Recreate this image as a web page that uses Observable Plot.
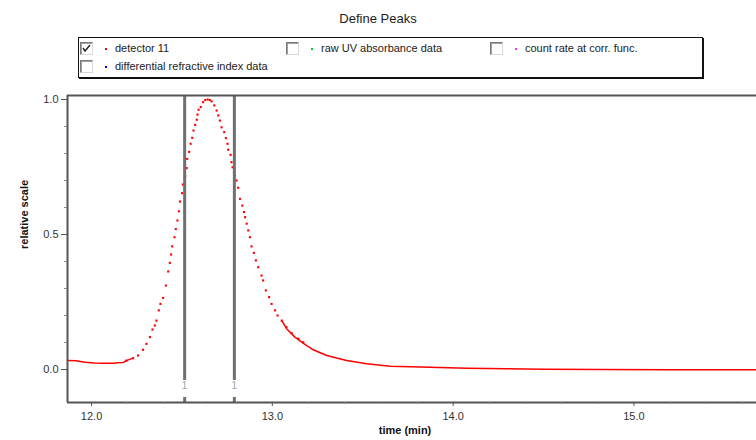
<!DOCTYPE html>
<html>
<head>
<meta charset="utf-8">
<script src="https://cdn.jsdelivr.net/npm/d3@7"></script>
<script src="https://cdn.jsdelivr.net/npm/@observablehq/plot@0.6"></script>
<style>
  body { margin: 0; background: #fff; font-family: "Liberation Sans", Arial, sans-serif; }
  #wrap { position: relative; width: 756px; height: 440px; overflow: hidden; }
  #header { position: relative; width: 756px; height: 85px; }
  #title { position: absolute; top: 11px; left: 0; width: 756px; text-align: center; font-size: 13px; color: #222; }
  #legend { position: absolute; left: 78px; top: 37px; width: 623px; height: 39px; border: 1px solid #111; box-shadow: 1px 1px 0 #111; background: #fff; }
  .item { position: absolute; font-size: 11px; color: #222; white-space: nowrap; }
  .cb { position: absolute; width: 11px; height: 11px; border: 1px solid #7a7a7a; border-right-color: #d8d8d8; border-bottom-color: #d8d8d8; background: #fff; box-shadow: inset 1px 1px 0 #a0a0a0; }
  .sw { position: absolute; width: 2px; height: 2px; }
  .lbl { position: absolute; line-height: 13px; }
</style>
</head>
<body>
<div id="wrap">
  <div id="header">
    <div id="title">Define Peaks</div>
    <div id="legend"></div>
  </div>
  <div id="chart"></div>
</div>
<script>
// ---- legend entries ----
const legendNames = ["detector 11", "raw  UV absorbance data", "count rate at corr. func.", "differential refractive index data"];
const legendColors = ["#ff0000", "#00cc33", "#ff33ff", "#0000ff"];
const legendChecked = [true, false, false, false];

// ---- data: detector 11 (relative scale vs time, min) ----
const leadTime   = [11.867, 11.914, 11.964, 12.015, 12.065, 12.125, 12.145, 12.176, 12.193, 12.230];
const leadSignal = [0.033, 0.032, 0.027, 0.024, 0.023, 0.023, 0.025, 0.026, 0.033, 0.042];

const peakTime = [12.193, 12.230, 12.257, 12.285, 12.304, 12.323, 12.337, 12.350, 12.359, 12.372,
  12.381, 12.396, 12.411, 12.424, 12.433, 12.440, 12.446, 12.459, 12.466, 12.475,
  12.483, 12.489, 12.501, 12.505, 12.518, 12.526, 12.529, 12.540, 12.548, 12.557,
  12.564, 12.573, 12.582, 12.586, 12.592, 12.604, 12.617, 12.629, 12.642, 12.654,
  12.664, 12.679, 12.692, 12.701, 12.710, 12.719, 12.734, 12.743, 12.752, 12.756,
  12.769, 12.774, 12.780, 12.793, 12.802, 12.811, 12.821, 12.834, 12.843, 12.849,
  12.858, 12.867, 12.876, 12.885, 12.898, 12.909, 12.922, 12.940, 12.949, 12.964,
  12.982, 12.996, 13.015, 13.029, 13.052, 13.078, 13.107, 13.144, 13.171];
const peakSignal = [0.033, 0.042, 0.052, 0.073, 0.095, 0.120, 0.148, 0.163, 0.181, 0.219,
  0.243, 0.265, 0.311, 0.363, 0.395, 0.426, 0.456, 0.490, 0.520, 0.552,
  0.586, 0.622, 0.653, 0.685, 0.716, 0.746, 0.780, 0.806, 0.836, 0.858,
  0.885, 0.906, 0.925, 0.944, 0.962, 0.972, 0.990, 0.998, 1.000, 0.998,
  0.993, 0.978, 0.959, 0.941, 0.922, 0.897, 0.879, 0.857, 0.836, 0.814,
  0.795, 0.768, 0.749, 0.719, 0.700, 0.673, 0.632, 0.607, 0.583, 0.564,
  0.540, 0.515, 0.490, 0.456, 0.432, 0.404, 0.379, 0.348, 0.330, 0.293,
  0.268, 0.243, 0.219, 0.200, 0.181, 0.157, 0.134, 0.114, 0.101];

const tailTime   = [13.052, 13.079, 13.125, 13.172, 13.226, 13.301, 13.411, 13.522, 13.652, 13.818, 14.077, 14.300, 14.500, 14.810, 15.210, 15.678];
const tailSignal = [0.181, 0.151, 0.120, 0.097, 0.073, 0.052, 0.033, 0.021, 0.012, 0.009, 0.005, 0.003, 0.001, 0.000, -0.001, -0.001];

// peak limits (vertical markers) and their labels
const peakLimits = [12.515, 12.790];
const peakLabels = ["1", "1"];

// ticks
const xMajorTicks = [12.0, 13.0, 14.0, 15.0];
const xMinorTicks = [12.2, 12.4, 12.6, 12.8, 13.2, 13.4, 13.6, 13.8, 14.2, 14.4, 14.6, 14.8, 15.2, 15.4, 15.6];
const yMajorTicks = [0.0, 0.5, 1.0];
const yMinorTicks = [0.1, 0.2, 0.3, 0.4, 0.6, 0.7, 0.8, 0.9];
const xDomain = [11.867, 15.678];
const yDomain = [-0.1222, 1.0148];
const xTitle = "time (min)";
const yTitle = "relative scale";

// ---- legend build ----
const legend = document.getElementById("legend");
const slots = [[1, 4], [207, 4], [411, 4], [1, 22]];
legendNames.forEach((name, i) => {
  const [lx, ly] = slots[i];
  const cb = document.createElement("div");
  cb.className = "cb"; cb.style.left = lx + "px"; cb.style.top = ly + "px";
  if (legendChecked[i]) {
    cb.innerHTML = '<svg width="11" height="11" style="position:absolute;left:0;top:0"><polyline points="2,5 4,8 9,2" fill="none" stroke="#222" stroke-width="1.4"/></svg>';
  }
  legend.appendChild(cb);
  const sw = document.createElement("div");
  sw.className = "sw"; sw.style.left = (lx + 25) + "px"; sw.style.top = (ly + 6) + "px";
  sw.style.background = legendColors[i];
  legend.appendChild(sw);
  const lb = document.createElement("div");
  lb.className = "item lbl"; lb.style.left = (lx + 35) + "px"; lb.style.top = (ly) + "px";
  lb.textContent = name;
  legend.appendChild(lb);
});

// ---- chart ----
const lead = leadTime.map((t, i) => ({t, v: leadSignal[i]}));
const peak = peakTime.map((t, i) => ({t, v: peakSignal[i]}));
const tail = tailTime.map((t, i) => ({t, v: tailSignal[i]}));
const fmt = d3.format(".1f");
const axisColor = "#555";

const chart = Plot.plot({
  width: 756,
  height: 355,
  marginTop: 10,
  marginBottom: 38,
  marginLeft: 67,
  marginRight: 0,
  style: {fontFamily: "'Liberation Sans', Arial, sans-serif", fontSize: "11px", color: "#333", background: "#fff"},
  x: {domain: xDomain},
  y: {domain: yDomain},
  marks: [
    Plot.line(lead, {x: "t", y: "v", stroke: "#ff0000", strokeWidth: 1.5}),
    Plot.line(tail, {x: "t", y: "v", stroke: "#ff0000", strokeWidth: 1.5}),
    Plot.dot(peak, {x: "t", y: "v", symbol: "square", r: 1.2, fill: "#ff0000", stroke: null}),
    Plot.ruleX(peakLimits, {stroke: "#707070", strokeWidth: 3, insetBottom: 22}),
    Plot.ruleX(peakLimits, {stroke: "#707070", strokeWidth: 3, insetTop: 302}),
    Plot.text(peakLimits, {x: d => d, text: (d, i) => peakLabels[i], frameAnchor: "bottom", dy: -14, fill: "#9aa3b5", fontSize: 10}),
    Plot.ruleX([xDomain[0]], {stroke: axisColor, strokeWidth: 2}),
    Plot.ruleY(yDomain, {stroke: axisColor, strokeWidth: 2}),
    Plot.axisY(yMajorTicks, {tickSize: 6, tickPadding: 3, tickFormat: fmt, label: null, stroke: axisColor, fill: "#333"}),
    Plot.axisY(yMinorTicks, {tickSize: 3, tickFormat: () => "", label: null, stroke: "#888"}),
    Plot.axisX(xMajorTicks, {tickSize: 4, tickPadding: 6, tickFormat: fmt, label: null, stroke: axisColor, fill: "#333"}),
    Plot.axisX(xMinorTicks, {tickSize: 2, tickFormat: () => "", label: null, stroke: "#888"}),
    Plot.text([yTitle], {frameAnchor: "left", dx: -43, rotate: -90, fontWeight: "bold", fontSize: 11, fill: "#111"}),
    Plot.text([xTitle], {frameAnchor: "bottom", dx: -7, dy: 31, fontWeight: "bold", fontSize: 11, fill: "#111"})
  ]
});
document.getElementById("chart").appendChild(chart);
</script>
</body>
</html>
